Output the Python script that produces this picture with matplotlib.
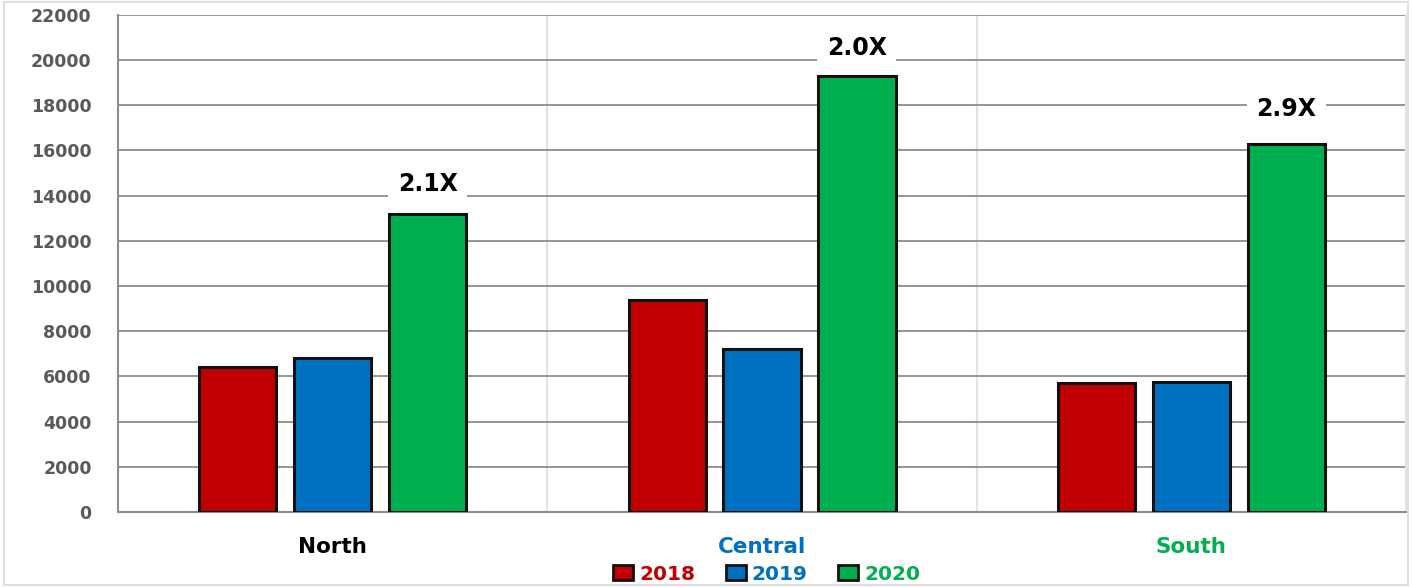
import matplotlib.pyplot as plt
import numpy as np
from matplotlib.patches import Patch, Rectangle

regions = ["North", "Central", "South"]
years = ["2018", "2019", "2020"]
values_2018 = [6400, 9400, 5700]
values_2019 = [6800, 7200, 5750]
values_2020 = [13200, 19300, 16300]
growth_labels = ["2.1X", "2.0X", "2.9X"]
region_colors = ["black", "#0070C0", "#00B050"]
bar_colors = ["#C00000", "#0070C0", "#00B050"]

plt.rcParams['font.family'] = ['DejaVu Sans']

fig = plt.figure(figsize=(14.12, 5.87), dpi=100)
ax = fig.add_axes([0.0836, 0.128, 0.9122, 0.8465])

# light frame around the whole picture
fig.patches.append(Rectangle((0.003, 0.003), 0.994, 0.994, transform=fig.transFigure,
                             fill=False, edgecolor="#e0e0e0", linewidth=1.5))

x = np.arange(len(regions))
width = 0.18
step = 0.221
series = [values_2018, values_2019, values_2020]
for i, (vals, color) in enumerate(zip(series, bar_colors)):
    ax.bar(x + (i - 1) * step, vals, width, color=color,
           edgecolor="#111111", linewidth=2.2, zorder=3, label=years[i])

# growth annotations above the 2020 bars
label_y = [14500, 20550, 17850]
for xi, txt, yy in zip(x, growth_labels, label_y):
    ax.text(xi + step, yy, txt, ha="center", va="center", fontsize=17,
            fontweight="bold", color="black", zorder=4,
            bbox=dict(boxstyle="square,pad=0.4", facecolor="white", edgecolor="none"))

ax.set_xlim(-0.5, 2.5)
ax.set_ylim(0, 22000)
ax.set_yticks(range(0, 22001, 2000))
ax.yaxis.grid(True, color="#8c8c8c", linewidth=1.3, zorder=0)
for sep in [0.5, 1.5]:
    ax.axvline(sep, color="#e3e3e3", linewidth=1.5, zorder=1)

ax.tick_params(axis="y", length=0, pad=19, labelsize=12.5, labelcolor="#595959")
for lbl in ax.get_yticklabels():
    lbl.set_fontweight("bold")
ax.set_xticks(x)
ax.set_xticklabels(regions, fontsize=15.5, fontweight="bold")
for lbl, c in zip(ax.get_xticklabels(), region_colors):
    lbl.set_color(c)
ax.tick_params(axis="x", length=0, pad=18)

ax.spines["top"].set_visible(False)
ax.spines["right"].set_color("#e3e3e3")
ax.spines["right"].set_linewidth(1.5)
ax.spines["left"].set_color("#8c8c8c")
ax.spines["left"].set_linewidth(1.5)
ax.spines["bottom"].set_color("#8c8c8c")
ax.spines["bottom"].set_linewidth(1.5)

handles = [Patch(facecolor=c, edgecolor="#111111", linewidth=2) for c in bar_colors]
leg = fig.legend(handles, years, loc="center", bbox_to_anchor=(0.543, 0.022), ncol=3,
                 frameon=False, fontsize=14.5, handlelength=1.0, handleheight=0.7,
                 handletextpad=0.3, columnspacing=1.5)
for t, c in zip(leg.get_texts(), bar_colors):
    t.set_color(c)
    t.set_fontweight("bold")

fig.savefig("out.png", dpi=100)
